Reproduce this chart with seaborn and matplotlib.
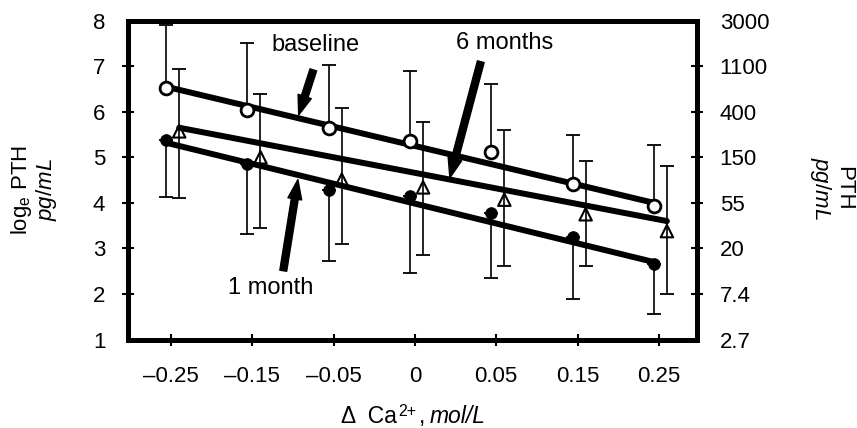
import numpy as np
import pandas as pd
import matplotlib
matplotlib.use("Agg")
import matplotlib.pyplot as plt
import seaborn as sns

# x categories (evenly spaced on the chart)
x_labels = ["\u20130.25", "\u20130.15", "\u20130.05", "0", "0.05", "0.15", "0.25"]

# log_e PTH means and error bar ends
baseline_mean = [6.52, 6.03, 5.65, 5.35, 5.12, 4.42, 3.93]
baseline_upper = [7.90, 7.51, 7.02, 6.89, 6.62, 5.50, 5.26]
month1_mean = [5.39, 4.86, 4.28, 4.16, 3.78, 3.25, 2.65]
month1_lower = [4.13, 3.31, 2.72, 2.45, 2.34, 1.90, 1.55]
month6_mean = [5.57, 5.00, 4.51, 4.34, 4.07, 3.75, 3.38]
month6_upper = [6.93, 6.39, 6.09, 5.77, 5.59, 4.93, 4.80]
month6_lower = [4.11, 3.44, 3.09, 2.85, 2.61, 2.61, 2.00]

# regression line ends (first, last category)
baseline_fit = [6.55, 4.00]
month1_fit = [5.32, 2.70]
month6_fit = [5.65, 3.60]

# right axis labels (pg/mL at log_e ticks 1..8)
right_ticks = [1, 2, 3, 4, 5, 6, 7, 8]
right_labels = ["2.7", "7.4", "20", "55", "150", "400", "1100", "3000"]

sns.set_theme(style="white")
plt.rcParams["font.family"] = ["Liberation Sans", "DejaVu Sans"]
plt.rcParams["mathtext.fontset"] = "custom"
plt.rcParams["mathtext.rm"] = "Liberation Sans"
plt.rcParams["mathtext.it"] = "Liberation Sans:italic"
plt.rcParams["text.color"] = "black"
plt.rcParams["axes.labelcolor"] = "black"

fig = plt.figure(figsize=(8.57, 4.28), dpi=100)
ax = fig.add_axes([128 / 857, 1 - 339.5 / 428, 569 / 857, 318.8 / 428])

pos = np.arange(len(x_labels))
dx_circ, dx_tri = -0.06, 0.10
xb = pos + dx_circ
xt = pos + dx_tri

bm, bu = np.array(baseline_mean), np.array(baseline_upper)
m1, m1l = np.array(month1_mean), np.array(month1_lower)
m6, m6u, m6l = np.array(month6_mean), np.array(month6_upper), np.array(month6_lower)

eb = dict(fmt="none", ecolor="black", elinewidth=1.2, capsize=4.7, capthick=1.3, zorder=2)
ax.errorbar(xb, bm, yerr=[np.zeros_like(bm), bu - bm], **eb)
ax.errorbar(xb, m1, yerr=[m1 - m1l, np.zeros_like(m1)], **eb)
ax.errorbar(xt, m6, yerr=[m6 - m6l, m6u - m6], **eb)

fit_df = pd.DataFrame({
    "x": [xb[0], xb[-1], xb[0], xb[-1], xt[0], xt[-1]],
    "y": baseline_fit + month1_fit + month6_fit,
    "group": ["baseline"] * 2 + ["1 month"] * 2 + ["6 months"] * 2,
})
sns.lineplot(data=fit_df, x="x", y="y", units="group", estimator=None,
             color="black", linewidth=4.3, ax=ax, zorder=3, legend=False)

sns.scatterplot(x=xb, y=bm, marker="o", s=85, facecolor="white",
                edgecolor="black", linewidth=2.0, ax=ax, zorder=4)
sns.scatterplot(x=xb, y=m1, marker="o", s=70, color="black",
                edgecolor="black", ax=ax, zorder=4)
sns.scatterplot(x=xt, y=m6, marker="^", s=80, facecolor="none",
                edgecolor="black", linewidth=1.5, ax=ax, zorder=4)

# annotations
arrow = dict(arrowstyle="simple,head_length=0.7,head_width=0.5,tail_width=0.25",
             fc="black", ec="black", mutation_scale=20, shrinkA=0, shrinkB=0)
ax.text(1.78, 7.47, "baseline", fontsize=17, ha="center", va="center", color="black")
ax.annotate("", xy=(1.57, 5.93), xytext=(1.75, 6.92), arrowprops=arrow)
ax.text(4.10, 7.52, "6 months", fontsize=17, ha="center", va="center", color="black")
ax.annotate("", xy=(3.43, 4.55), xytext=(3.81, 7.10), arrowprops=arrow)
ax.text(1.23, 2.13, "1 month", fontsize=17, ha="center", va="center", color="black")
ax.annotate("", xy=(1.56, 4.51), xytext=(1.38, 2.51), arrowprops=arrow)

ax.set_xlim(-0.53, 6.47)
ax.set_ylim(1, 8)
ax.set_xticks(pos)
ax.set_xticklabels(x_labels)
ax.set_yticks(range(1, 9))
ax.set_xlabel("")
ax.set_ylabel("")

for s in ax.spines.values():
    s.set_visible(True)
    s.set_linewidth(3.6)
    s.set_color("black")

ax.tick_params(axis="both", direction="inout", length=8.6, width=1.5,
               labelsize=16, colors="black", pad=12)
ax.tick_params(axis="x", pad=15)
ax.tick_params(right=False, top=False, left=True, bottom=True)

ax2 = ax.twinx()
ax2.set_ylim(1, 8)
ax2.set_yticks(right_ticks)
ax2.set_yticklabels(right_labels)
for s in ax2.spines.values():
    s.set_visible(False)
ax2.tick_params(axis="y", direction="inout", length=8.6, width=1.5,
                labelsize=16, colors="black", pad=12, right=True)
ax2.grid(False)
ax.grid(False)

for a in (ax, ax2):
    ticks = a.yaxis.get_major_ticks()
    for t in (ticks[0], ticks[-1]):
        t.tick1line.set_visible(False)
        t.tick2line.set_visible(False)

# x label in pieces: "Δ  Ca", raised "2+", comma, italic unit
base_y = 1 - 423 / 428
fig.text(397 / 857, base_y, "\u0394  Ca", ha="right", va="baseline",
         fontsize=16.5, color="black")
fig.text(398 / 857, 1 - 416 / 428, "2+", ha="left", va="baseline",
         fontsize=11.5, color="black")
fig.text(419 / 857, base_y, ",", ha="left", va="baseline",
         fontsize=16.5, color="black")
fig.text(430 / 857, base_y, "mol/L", ha="left", va="baseline",
         fontsize=16.5, style="italic", color="black")

fig.text(34 / 857, 1 - 190 / 428, "log$_\\mathregular{e}$ PTH\n$\\it{pg/mL}$",
         rotation=90, ha="center", va="center", multialignment="center",
         fontsize=16, linespacing=1.0, color="black")
fig.text(831 / 857, 1 - 188 / 428, "PTH\n$\\it{pg/mL}$",
         rotation=270, ha="center", va="center", multialignment="center",
         fontsize=16, linespacing=1.0, color="black")

fig.savefig("out.png", dpi=100)
